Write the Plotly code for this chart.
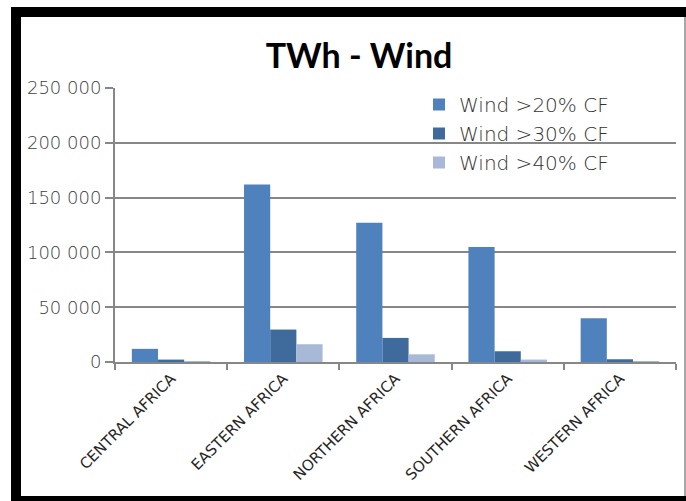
import plotly.graph_objects as go

# Regional wind generation potential (TWh) by capacity-factor threshold
regions = ["CENTRAL AFRICA", "EASTERN AFRICA", "NORTHERN AFRICA",
           "SOUTHERN AFRICA", "WESTERN AFRICA"]
wind_cf20 = [12000, 162000, 127000, 105000, 40000]
wind_cf30 = [2200, 29600, 22000, 9800, 2500]
wind_cf40 = [900, 16200, 7000, 2200, 900]
series_names = ["Wind >20% CF", "Wind >30% CF", "Wind >40% CF"]
y_ticks = [0, 50000, 100000, 150000, 200000, 250000]

W, H = 686, 501
L, R, T, B = 115, 10, 88, 139
pw, ph = W - L - R, H - T - B


def px_x(x):
    return (x - L) / pw


def px_y(y):
    return (H - B - y) / ph


colors = ["#4F81BD", "#3F6A9C", "#A8B9D8"]
fig = go.Figure()
for name, vals, col in zip(series_names, [wind_cf20, wind_cf30, wind_cf40], colors):
    fig.add_trace(go.Bar(name=name, x=regions, y=vals,
                         marker=dict(color=col, line=dict(width=0))))

grid = "#878787"
fig.update_layout(
    width=W, height=H,
    margin=dict(l=L, r=R, t=T, b=B),
    paper_bgcolor="white", plot_bgcolor="white",
    separators=". ",
    barmode="group", bargap=0.3, bargroupgap=0,
    title=dict(text="<b>TWh - Wind</b>", x=359 / W, xanchor="center",
               y=1 - 44 / H, yanchor="top", yref="container",
               font=dict(family="Lato", size=34, color="black")),
    legend=dict(x=px_x(419), y=px_y(85), xanchor="left", yanchor="top",
                bgcolor="rgba(0,0,0,0)",
                font=dict(family="DejaVu Sans", size=20, color="#333333", weight=200),
                tracegroupgap=0, itemwidth=30),
    xaxis=dict(showline=True, linecolor=grid, linewidth=2,
               ticks="outside", tickson="boundaries", ticklen=6,
               tickcolor=grid, tickwidth=2, tickangle=-45,
               tickfont=dict(family="DejaVu Sans", size=15, color="#262626")),
    yaxis=dict(range=[0, 250000], tickvals=y_ticks, tickformat=",.0f",
               showline=True, linecolor=grid, linewidth=2,
               ticks="outside", ticklen=8, tickcolor=grid, tickwidth=2,
               showgrid=True, gridcolor=grid, gridwidth=2, zeroline=False,
               tickfont=dict(family="DejaVu Sans", size=18, color="#404040", weight=200)),
)

# Black frame around the chart
frame = [
    (11, 7, W, 17),     # top bar
    (11, 7, 21, H),     # left bar
    (11, 496, W, H),    # bottom bar
]
for x0, y0, x1, y1 in frame:
    fig.add_shape(type="rect", xref="paper", yref="paper",
                  x0=px_x(x0), x1=px_x(x1), y0=px_y(y0), y1=px_y(y1),
                  fillcolor="black", line=dict(width=0), layer="above")
fig.add_shape(type="line", xref="paper", yref="paper",
              x0=px_x(685), x1=px_x(685), y0=px_y(17), y1=px_y(496),
              line=dict(color="#8a8a8a", width=1.5), layer="above")

fig.write_html("out.html")
